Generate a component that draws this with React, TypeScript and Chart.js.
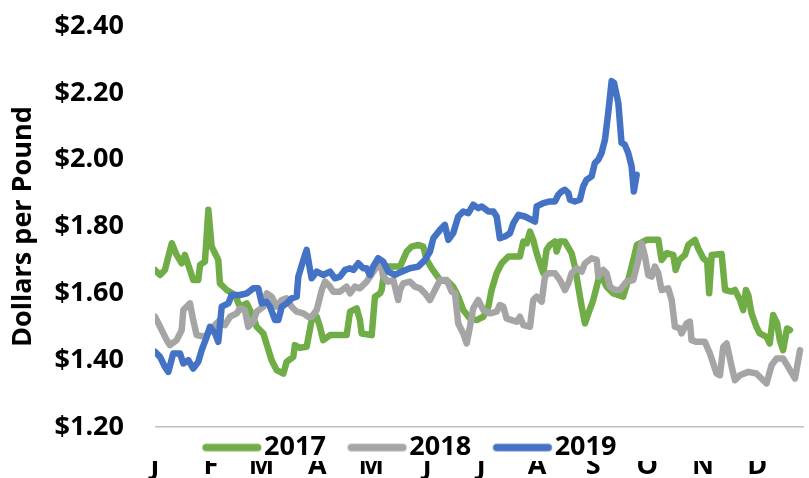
import React, { useEffect, useRef } from 'react';
import { Chart, registerables } from 'chart.js';

Chart.register(...registerables);

const monthLabels = ['J', 'F', 'M', 'A', 'M', 'J', 'J', 'A', 'S', 'O', 'N', 'D'];
const monthStartDays = [0, 31, 59, 90, 120, 151, 181, 212, 243, 273, 304, 334];
const yAxisTitle = 'Dollars per Pound';
const seriesNames = ['2017', '2018', '2019'];
const seriesColors = ['#70AD47', '#A5A5A5', '#4472C4'];

// day of year (x) and dollars per pound (y)
const days2017 = [0, 2.8, 5.5, 9.3, 12, 14.8, 16.6, 19.4, 21.2, 24, 25, 27.7, 29.6, 31.4, 35.1, 36, 39.8, 44.4, 47.1, 50.9, 53.6, 56.4, 60.1, 64.7, 67.5, 71.2, 73, 76.7, 77.6, 80.4, 84.1, 86.9, 89.7, 91.5, 93.3, 97.1, 106.3, 108.2, 111.9, 113.7, 114.6, 120.2, 122, 124.8, 125.7, 127.6, 135.9, 139.6, 142.4, 146, 148.8, 150.7, 153.5, 158.1, 162.7, 165.4, 168.2, 171, 174.7, 178.4, 182.1, 184.9, 186.7, 189.5, 192.3, 196, 202.4, 204.3, 206.2, 208, 209.8, 211.7, 213.5, 215.4, 217.2, 219.1, 221.9, 222.8, 224.6, 227.4, 231.1, 232.9, 234.8, 236.7, 238.5, 240.4, 243.1, 245, 246.8, 250.5, 254.2, 259.7, 262.5, 265.3, 267.3, 272.7, 279.2, 281, 283.8, 287.5, 288.8, 290.8, 294, 295.8, 299.5, 301.3, 304.1, 306.3, 307.4, 308.8, 314.3, 316.2, 319.9, 321.7, 324.5, 326.3, 327.8, 329.1, 330.9, 333.6, 335.5, 339.2, 341, 342.9, 345.1, 346.6, 348.4, 350.6, 352.2];
const price2017 = [1.67, 1.655, 1.67, 1.75, 1.715, 1.69, 1.715, 1.67, 1.64, 1.64, 1.685, 1.695, 1.85, 1.74, 1.70, 1.63, 1.61, 1.595, 1.56, 1.57, 1.54, 1.50, 1.48, 1.40, 1.37, 1.36, 1.395, 1.41, 1.445, 1.437, 1.44, 1.52, 1.53, 1.50, 1.46, 1.475, 1.475, 1.545, 1.555, 1.52, 1.48, 1.475, 1.59, 1.60, 1.61, 1.68, 1.68, 1.725, 1.74, 1.745, 1.74, 1.70, 1.675, 1.64, 1.635, 1.62, 1.59, 1.55, 1.525, 1.52, 1.53, 1.56, 1.61, 1.66, 1.69, 1.71, 1.71, 1.755, 1.75, 1.785, 1.76, 1.72, 1.69, 1.66, 1.73, 1.745, 1.755, 1.725, 1.755, 1.755, 1.72, 1.68, 1.62, 1.56, 1.51, 1.54, 1.58, 1.62, 1.66, 1.62, 1.60, 1.59, 1.64, 1.70, 1.745, 1.76, 1.76, 1.70, 1.72, 1.715, 1.67, 1.70, 1.715, 1.745, 1.76, 1.735, 1.705, 1.695, 1.60, 1.715, 1.718, 1.61, 1.605, 1.61, 1.58, 1.55, 1.61, 1.595, 1.54, 1.50, 1.48, 1.47, 1.45, 1.535, 1.51, 1.46, 1.43, 1.495, 1.49];

const days2018 = [0, 2.8, 6.5, 8.3, 12, 14.8, 15.7, 19.4, 21.2, 23.1, 27.7, 32.3, 36, 38.8, 41.6, 45.3, 47.1, 49.9, 51.7, 54.5, 56.4, 60.1, 62, 64.7, 67.5, 70.3, 73, 75.8, 78.6, 82.3, 85, 86.9, 89.7, 92.5, 94.3, 97.1, 98.9, 102.6, 106.3, 108.2, 110.9, 113.7, 117.4, 123, 124.8, 126.6, 129.4, 132.2, 134.9, 135.9, 137.7, 141.4, 144.2, 147, 149.8, 152.5, 154.4, 158.1, 161.8, 164.6, 166.4, 168.2, 171, 172.9, 174.7, 176.5, 179.3, 182.1, 185.8, 189.5, 191.3, 193.2, 195, 197.8, 200.6, 202.4, 204.3, 208, 209.8, 211.7, 214.5, 216.3, 218.1, 221.9, 224.6, 227.4, 229.3, 231.1, 233.9, 236.7, 238.5, 242.2, 245, 245.9, 248.7, 250.5, 252.4, 255.1, 257.9, 261.6, 265.3, 268.1, 269.9, 271.8, 273.6, 275.5, 277.3, 279.2, 281, 284.7, 286.6, 288.4, 291.2, 292.1, 294.9, 296.7, 297.6, 300.4, 305, 307.8, 311.5, 313.4, 315.2, 317.1, 319.9, 321.7, 324.5, 329.1, 333.6, 339.2, 342, 344.8, 348.4, 351.2, 355, 357.8];
const price2018 = [1.53, 1.50, 1.46, 1.445, 1.46, 1.49, 1.55, 1.57, 1.52, 1.475, 1.47, 1.50, 1.52, 1.505, 1.53, 1.54, 1.555, 1.55, 1.50, 1.515, 1.545, 1.56, 1.60, 1.59, 1.56, 1.58, 1.585, 1.56, 1.545, 1.54, 1.53, 1.53, 1.55, 1.61, 1.635, 1.62, 1.605, 1.605, 1.62, 1.60, 1.62, 1.615, 1.635, 1.68, 1.70, 1.65, 1.635, 1.64, 1.58, 1.61, 1.63, 1.635, 1.62, 1.615, 1.60, 1.58, 1.60, 1.64, 1.64, 1.605, 1.60, 1.51, 1.48, 1.45, 1.50, 1.555, 1.58, 1.55, 1.54, 1.545, 1.565, 1.56, 1.525, 1.52, 1.515, 1.53, 1.505, 1.50, 1.58, 1.59, 1.575, 1.65, 1.66, 1.66, 1.64, 1.61, 1.63, 1.66, 1.675, 1.665, 1.69, 1.705, 1.70, 1.65, 1.67, 1.66, 1.62, 1.61, 1.61, 1.635, 1.64, 1.70, 1.75, 1.71, 1.655, 1.65, 1.68, 1.66, 1.61, 1.615, 1.58, 1.50, 1.495, 1.48, 1.51, 1.515, 1.46, 1.455, 1.455, 1.42, 1.36, 1.355, 1.44, 1.45, 1.38, 1.34, 1.355, 1.365, 1.36, 1.33, 1.385, 1.405, 1.405, 1.38, 1.345, 1.43];

const days2019 = [0, 2.8, 5.5, 7.4, 10.1, 13.9, 15.7, 18.5, 21.2, 24, 25.9, 28.7, 30.5, 33.3, 35.1, 37, 40.7, 42.5, 47.1, 50.9, 54.5, 57.3, 59.2, 62, 63.8, 66.6, 68.4, 70.3, 73, 75.8, 78.6, 79.5, 82.3, 84.1, 86, 86.9, 89.7, 93.3, 97.1, 99.8, 102.6, 105.4, 108.2, 110, 112.8, 115.5, 117.4, 119.2, 121, 123.8, 126.6, 129.4, 133.1, 136.8, 141.4, 146, 149.8, 152.5, 154.4, 158.1, 160.8, 162.7, 165.4, 168.2, 171, 173.8, 176.5, 179.3, 181.2, 184.9, 187.7, 189.5, 191.3, 194.1, 196.9, 198.8, 201.6, 205.2, 208.9, 210.8, 211.7, 215.4, 219.1, 221.9, 223.7, 225.6, 227.4, 229.3, 230.2, 232.9, 235.7, 237.5, 239.4, 242.2, 244, 245.9, 247.7, 249.6, 251.4, 253.3, 254.6, 257, 258.8, 260.6, 262.5, 264.4, 265.6, 267.2];
const price2019 = [1.425, 1.41, 1.38, 1.365, 1.42, 1.42, 1.39, 1.40, 1.375, 1.395, 1.43, 1.47, 1.50, 1.48, 1.455, 1.56, 1.57, 1.595, 1.595, 1.60, 1.615, 1.615, 1.57, 1.575, 1.56, 1.52, 1.52, 1.56, 1.57, 1.585, 1.59, 1.65, 1.70, 1.73, 1.67, 1.645, 1.665, 1.655, 1.665, 1.645, 1.65, 1.67, 1.675, 1.67, 1.69, 1.675, 1.675, 1.655, 1.68, 1.705, 1.695, 1.665, 1.655, 1.665, 1.675, 1.68, 1.70, 1.725, 1.765, 1.79, 1.805, 1.76, 1.78, 1.83, 1.845, 1.84, 1.865, 1.855, 1.86, 1.845, 1.845, 1.83, 1.765, 1.77, 1.78, 1.81, 1.835, 1.83, 1.82, 1.815, 1.86, 1.87, 1.875, 1.875, 1.895, 1.905, 1.91, 1.90, 1.88, 1.875, 1.88, 1.92, 1.94, 1.95, 1.99, 2.00, 2.02, 2.06, 2.14, 2.235, 2.23, 2.17, 2.05, 2.045, 2.02, 1.98, 1.905, 1.955];

const seriesDays = [days2017, days2018, days2019];
const seriesPrices = [price2017, price2018, price2019];

const FONT_FAMILY = "'Open Sans', sans-serif";

function legendLine(color: string): HTMLCanvasElement {
  const c = document.createElement('canvas');
  c.width = 88;
  c.height = 10;
  const g = c.getContext('2d')!;
  g.strokeStyle = color;
  g.lineWidth = 7.5;
  g.lineCap = 'round';
  g.beginPath();
  g.moveTo(31, 5);
  g.lineTo(82.5, 5);
  g.stroke();
  return c;
}

export default function App() {
  const canvasRef = useRef<HTMLCanvasElement | null>(null);

  useEffect(() => {
    if (!canvasRef.current) return;
    Chart.defaults.font.family = FONT_FAMILY;
    const boldFont = { family: FONT_FAMILY, size: 27, weight: 'bold' as const };

    const datasets = seriesNames.map((name, s) => ({
      label: name,
      data: seriesDays[s].map((d, i) => ({ x: d, y: seriesPrices[s][i] })),
      borderColor: seriesColors[s],
      backgroundColor: seriesColors[s],
      borderWidth: 6.5,
      borderCapStyle: 'round' as const,
      borderJoinStyle: 'round' as const,
      pointRadius: 0,
      pointHoverRadius: 0,
      pointStyle: legendLine(seriesColors[s]),
      tension: 0,
      fill: false,
      order: 2 - s,
    }));

    const chart = new Chart(canvasRef.current, {
      type: 'line',
      data: { datasets },
      options: {
        responsive: true,
        maintainAspectRatio: false,
        animation: false,
        layout: { padding: { top: 26, right: 5, bottom: 0, left: 0 } },
        plugins: {
          tooltip: { enabled: false },
          legend: {
            position: 'bottom',
            maxHeight: 34,
            labels: {
              usePointStyle: true,
              pointStyleWidth: 63,
              padding: 7,
              color: '#000',
              font: boldFont,
              sort: (a: any, b: any) => a.datasetIndex - b.datasetIndex,
            },
          },
        },
        scales: {
          x: {
            type: 'linear',
            position: 'bottom',
            weight: 2000,
            min: 0,
            max: 360,
            grid: { display: false, drawTicks: false },
            border: { display: false },
            afterBuildTicks: (axis: any) => {
              axis.ticks = monthStartDays.map((v) => ({ value: v }));
            },
            ticks: {
              autoSkip: false,
              maxRotation: 0,
              minRotation: 0,
              padding: 5.7,
              crossAlign: 'far',
              color: '#000',
              font: { ...boldFont, lineHeight: 0.207 },
              callback: (v: any) => {
                const i = monthStartDays.indexOf(Number(v));
                return i >= 0 ? monthLabels[i] : '';
              },
            },
          } as any,
          y: {
            min: 1.2,
            max: 2.4,
            afterFit: (scale: any) => {
              scale.width = 155;
              scale.paddingTop = 0;
              scale.paddingBottom = 0;
            },
            grid: {
              drawTicks: false,
              lineWidth: 1.5,
              color: (ctx: any) =>
                ctx.tick && Math.abs(ctx.tick.value - 1.2) < 1e-6 ? '#BFBFBF' : 'rgba(0,0,0,0)',
            },
            border: { display: false },
            ticks: {
              stepSize: 0.2,
              padding: 31,
              color: '#000',
              font: boldFont,
              callback: (v: any) => '$' + Number(v).toFixed(2),
            },
            title: {
              display: true,
              text: yAxisTitle,
              color: '#000',
              font: boldFont,
              padding: { top: 7, bottom: 0 },
            },
          },
        },
      },
    });

    return () => chart.destroy();
  }, []);

  return (
    <div style={{ position: 'absolute', left: 0, top: 0, width: 809, height: 478 }}>
      <canvas ref={canvasRef} />
    </div>
  );
}
